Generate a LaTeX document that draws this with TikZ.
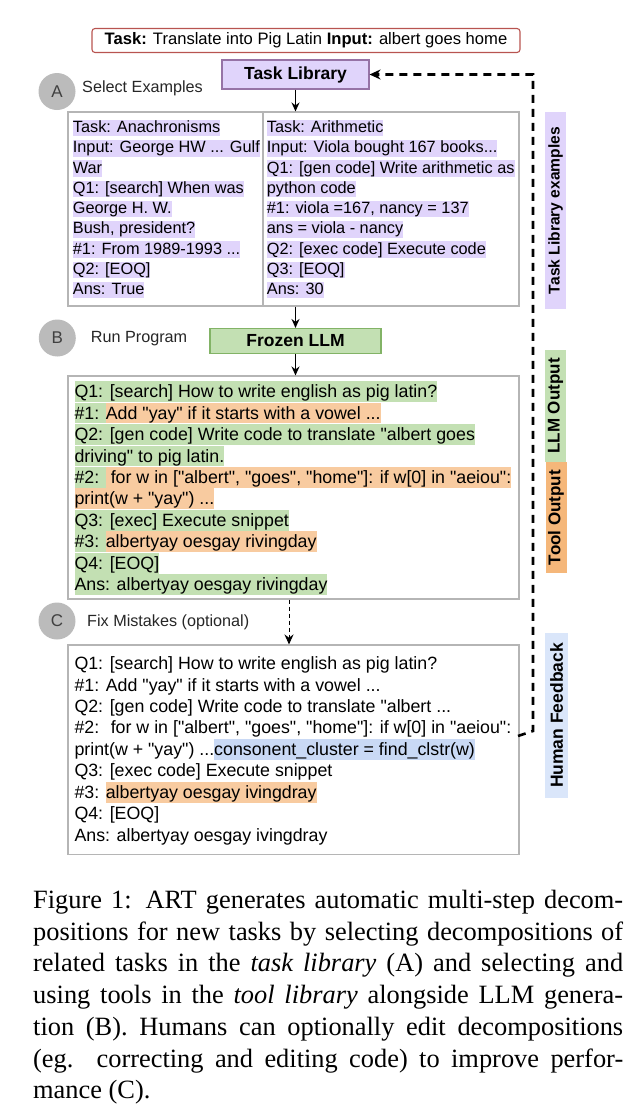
\documentclass[tikz,border=0pt]{standalone}
\usepackage{fontspec}
\setmainfont{Liberation Sans}
\newfontfamily\captionface{Liberation Serif}
\usepackage{xcolor}
\definecolor{taskBack}  {HTML}{E0D4FB}
\definecolor{taskLine}  {HTML}{9673A6}
\definecolor{llmBack}   {HTML}{C3E0B3}
\definecolor{llmLine}   {HTML}{82B366}
\definecolor{toolBack}  {HTML}{F8CBA0}
\definecolor{toolTag}   {HTML}{F5B77A}
\definecolor{fixBack}   {HTML}{C9D9F5}
\definecolor{fbTag}     {HTML}{DAE6FA}
\definecolor{badgeBack} {HTML}{BBBBBB}
\definecolor{panelLine} {HTML}{B5B5B5}
\definecolor{queryLine} {HTML}{B85450}
\usetikzlibrary{arrows.meta, positioning, calc}

% highlighted run of text, height set per panel
\newcommand{\hlht}{16.5pt}
\newcommand{\hldp}{3.8pt}
\newcommand{\hlbox}[2]{{\setlength{\fboxsep}{0pt}\colorbox{#1}{\rule[-\hldp]{0pt}{\hlht}#2}}}
\newcommand{\dq}{\textquotedbl}

\tikzset{
    panel/.style={draw=panelLine, line width=1.1pt, inner sep=0pt},
    paneltext/.style={inner sep=0pt, align=left, anchor=north west},
    badge/.style={circle, fill=badgeBack, minimum size=37pt, inner sep=0pt,
                  font=\fontsize{17}{20}\selectfont, text=black!75},
    phase/.style={anchor=base west, inner sep=0pt,
                  font=\fontsize{16.2}{19}\selectfont, text=black!85},
    sidetag/.style={rotate=90, inner sep=0pt, minimum height=21pt},
    flowedge/.style={-{Stealth[length=9pt,width=8pt]}, line width=1.2pt},
    optedge/.style={-{Stealth[length=10pt,width=9pt]}, line width=1pt,
                    dash pattern=on 4pt off 3pt},
    fbedge/.style={-{Stealth[length=11pt,width=10pt]}, line width=2.6pt,
                   dash pattern=on 8pt off 6pt},
}

\begin{document}
\begin{tikzpicture}[
    x=1pt, y=-1pt,
    querybox/.style={draw=queryLine, line width=1.1pt, rounded corners=3pt,
                     minimum width=428pt, minimum height=24pt, inner sep=0pt,
                     font=\fontsize{16.6}{19}\selectfont},
    libbox/.style={draw, line width=1.1pt, inner sep=0pt,
                   font=\bfseries\fontsize{17.5}{20}\selectfont},
]
\useasboundingbox (0,0) rectangle (644,1106);

% --- query and task library ---
\node[querybox] (query) at (306, 40.5)
    {\textbf{Task:} Translate into Pig Latin \textbf{Input:} albert goes home};
\node[libbox, fill=taskBack, draw=taskLine, minimum width=147pt,
      minimum height=29pt] (tasklib) at (295.5, 74.5) {Task Library};

% --- A: select examples ---
\node[badge] (badgeA) at (57, 91.5) {A};
\node[phase] (phaseA) at (82, 92) {Select Examples};
\node[panel, minimum width=451pt, minimum height=194pt] (exA) at (293.5, 209) {};
\draw[panel] (263, 112) -- (263, 306);
\node[paneltext, font=\fontsize{16.3}{20.25}\selectfont] (exAleft) at (72.7, 119.7) {%
\hlbox{taskBack}{Task: Anachronisms}\\
\hlbox{taskBack}{Input: George HW ... Gulf}\\
\hlbox{taskBack}{War}\\
\hlbox{taskBack}{Q1: [search] When was}\\
\hlbox{taskBack}{George H. W.}\\
\hlbox{taskBack}{Bush, president?}\\
\hlbox{taskBack}{\#1: From 1989-1993 ...}\\
\hlbox{taskBack}{Q2: [EOQ]}\\
\hlbox{taskBack}{Ans: True}};
\node[paneltext, font=\fontsize{16.3}{20.25}\selectfont] (exAright) at (266.7, 119.7) {%
\hlbox{taskBack}{Task: Arithmetic}\\
\hlbox{taskBack}{Input: Viola bought 167 books...}\\
\hlbox{taskBack}{Q1: [gen code] Write arithmetic as}\\
\hlbox{taskBack}{python code}\\
\hlbox{taskBack}{\#1: viola =167, nancy = 137}\\
\hlbox{taskBack}{ans = viola - nancy}\\
\hlbox{taskBack}{Q2: [exec code] Execute code}\\
\hlbox{taskBack}{Q3: [EOQ]}\\
\hlbox{taskBack}{Ans: 30}};

% --- B: run program ---
\node[badge] (badgeB) at (57.3, 338) {B};
\node[phase] (phaseB) at (90.7, 342.7) {Run Program};
\node[libbox, fill=llmBack, draw=llmLine, minimum width=171pt,
      minimum height=25pt] (frozen) at (295.5, 341) {Frozen LLM};
\node[panel, minimum width=451pt, minimum height=223pt] (exB) at (293.5, 487.5) {};
\node[paneltext, font={\fontsize{17.8}{21.45}\selectfont
      \renewcommand{\hlht}{20.7pt}\renewcommand{\hldp}{4.2pt}}] (exBtext) at (74.3, 381) {%
\hlbox{llmBack}{Q1: [search] How to write english as pig latin?}\\
\hlbox{llmBack}{\#1: }\hlbox{toolBack}{Add \dq{}yay\dq{} if it starts with a vowel ...}\\
\hlbox{llmBack}{Q2: [gen code] Write code to translate \dq{}albert goes}\\
\hlbox{llmBack}{driving\dq{} to pig latin.}\\
\hlbox{llmBack}{\#2: }\hlbox{toolBack}{\ for w in [\dq{}albert\dq{}, \dq{}goes\dq{}, \dq{}home\dq{}]: if w[0] in \dq{}aeiou\dq{}:}\\
\hlbox{toolBack}{print(w + \dq{}yay\dq{}) ...}\\
\hlbox{llmBack}{Q3: [exec] Execute snippet}\\
\hlbox{llmBack}{\#3: }\hlbox{toolBack}{albertyay oesgay rivingday}\\
\hlbox{llmBack}{Q4: [EOQ]}\\
\hlbox{llmBack}{Ans: albertyay oesgay rivingday}};

% --- C: fix mistakes ---
\node[badge] (badgeC) at (57, 621) {C};
\node[phase] (phaseC) at (87, 626) {Fix Mistakes (optional)};
\node[panel, minimum width=451pt, minimum height=209.5pt] (exC) at (293.5, 749.75) {};
\node[paneltext, font={\fontsize{17.8}{21.45}\selectfont
      \renewcommand{\hlht}{20.7pt}\renewcommand{\hldp}{4.2pt}}] (exCtext) at (74.3, 652.9) {%
\rule[-\hldp]{0pt}{\hlht}Q1: [search] How to write english as pig latin?\\
\#1: Add \dq{}yay\dq{} if it starts with a vowel ...\\
Q2: [gen code] Write code to translate \dq{}albert ...\\
\#2: \ for w in [\dq{}albert\dq{}, \dq{}goes\dq{}, \dq{}home\dq{}]: if w[0] in \dq{}aeiou\dq{}:\\
print(w + \dq{}yay\dq{}) ...\hlbox{fixBack}{consonent\_cluster = find\_clstr(w)}\\
Q3: [exec code] Execute snippet\\
\#3: \hlbox{toolBack}{albertyay oesgay ivingdray}\\
Q4: [EOQ]\\
Ans: albertyay oesgay ivingdray};

% --- connectors ---
\draw[flowedge] (tasklib) -- (tasklib |- exA.north);
\draw[flowedge] (frozen.north |- exA.south) -- (frozen.north);
\draw[flowedge] (frozen) -- (frozen |- exB.north);
\draw[optedge] ([xshift=-4.5pt]exB.south) -- ([xshift=-4.5pt]exC.north);
\coordinate (fbstart) at (518, 736);
\coordinate (fbturn) at (533, 731);
\draw[fbedge] (fbstart) -- (fbturn) -- (fbturn |- tasklib.east) -- (tasklib.east);

% --- side tags ---
\node[sidetag, fill=taskBack, minimum width=197pt,
      font=\bfseries\fontsize{15.6}{18}\selectfont] (tagTask) at (555.5, 210.5) {Task Library examples};
\node[sidetag, fill=llmBack, minimum width=112pt,
      font=\bfseries\fontsize{17}{20}\selectfont] (tagLLM) at (555.5, 406) {LLM Output};
\node[sidetag, fill=toolTag, minimum width=111pt,
      font=\bfseries\fontsize{17}{20}\selectfont] (tagTool) at (556, 517.5) {Tool Output};
\node[sidetag, fill=fbTag, minimum width=165pt, minimum height=23pt,
      font=\bfseries\fontsize{17.5}{20}\selectfont] (tagFb) at (556.5, 715.5) {Human Feedback};

% --- caption ---
\node[anchor=north west, inner sep=0pt, text width=590pt, align=justify,
      font=\captionface\fontsize{26.4}{31.7}\selectfont] (caption) at (33, 890)
    {\hyphenpenalty=10000 \tolerance=9999
     Figure 1: ART generates automatic multi-step decom-\linebreak
     positions for new tasks by selecting decompositions of\linebreak
     related tasks in the \textit{task library} (A) and selecting and\linebreak
     using tools in the \textit{tool library} alongside LLM genera-\linebreak
     tion (B). Humans can optionally edit decompositions\linebreak
     (eg. correcting and editing code) to improve perfor-\linebreak
     mance (C).};
\end{tikzpicture}
\end{document}
